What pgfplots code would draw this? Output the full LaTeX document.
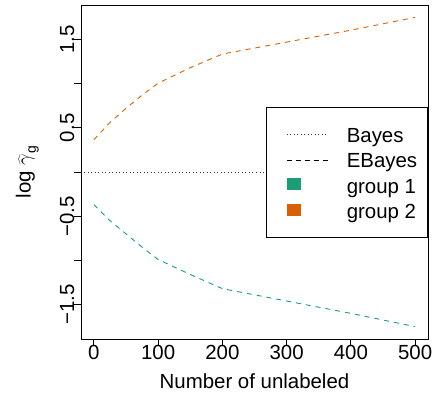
\documentclass[border=0pt]{standalone}
\usepackage{fontspec}
\setmainfont{Liberation Sans}
\usepackage{pgfplots}
\pgfplotsset{compat=1.18}
\definecolor{gone}{HTML}{1B9E77}
\definecolor{gtwo}{HTML}{D95F02}
\newcommand{\fs}{\fontsize{20.5}{24}\selectfont}
\pgfplotsset{
  myline/.style={legend image code/.code={\path (-10bp,0bp); \draw[##1] (0bp,-0.5bp) -- (41bp,-0.5bp);}},
  mysq/.style={legend image code/.code={\path (-10bp,0bp); \fill[##1] (0bp,-5bp) rectangle (14bp,7bp);}},
}
\begin{document}
\begin{tikzpicture}
\begin{axis}[
  at={(0,0)}, anchor=south west,
  scale only axis, width=347bp, height=334bp,
  xmin=-20, xmax=520, ymin=-1.89, ymax=1.89,
  axis line style={line width=0.8bp, black},
  tick align=outside, major tick length=6.5bp,
  tick style={line width=0.8bp, black},
  tick pos=left,
  xtick={0,100,200,300,400,500},
  xticklabels={0,100,200,300,400,500},
  ytick={-1.5,-1,-0.5,0,0.5,1,1.5},
  yticklabels={−1.5,,−0.5,,0.5,,1.5},
  ticklabel style={font=\fs},
  xticklabel style={anchor=north, inner sep=0pt},
  yticklabel style={rotate=90, anchor=south, inner sep=0pt},
  xlabel={Number of unlabeled},
  ylabel={log $\widehat{\gamma}$\raisebox{-0.25em}{\fontsize{14}{14}\selectfont g}},
  label style={font=\fs},
  xlabel style={at={(axis description cs:0.5,-0.1476)}, anchor=base},
  ylabel style={at={(axis description cs:-0.145,0.5)}, anchor=base},
  legend style={at={(axis description cs:0.532,0.694)}, anchor=north west,
    draw=black, line width=0.8bp, fill=white,
    inner xsep=10.3bp, inner ysep=16.4bp,
    column sep=18.7bp, row sep=5.5bp, font=\fs,
    nodes={inner sep=0pt, text height=18bp, text depth=2bp}},
  legend cell align=left,
]
\addplot[black!80, line width=0.7bp, dash pattern=on 1bp off 2.5bp, myline] coordinates {(-20,0) (520,0)};
\addlegendentry{Bayes}
\addlegendimage{black, line width=0.8bp, dash pattern=on 5bp off 4bp, myline}
\addlegendentry{EBayes}
\addlegendimage{fill=gone, draw=none, mysq}
\addlegendentry{group 1}
\addlegendimage{fill=gtwo, draw=none, mysq}
\addlegendentry{group 2}
\addplot[gtwo, line width=0.9bp, dash pattern=on 5bp off 5bp, forget plot] coordinates {
(0,0.365) (25,0.56) (50,0.72) (75,0.87) (100,1.005) (150,1.18) (200,1.335) (300,1.47) (400,1.605) (500,1.75)};
\addplot[gone, line width=0.9bp, dash pattern=on 5bp off 5bp, forget plot] coordinates {
(0,-0.37) (25,-0.55) (50,-0.70) (75,-0.85) (100,-0.99) (150,-1.16) (200,-1.32) (300,-1.46) (400,-1.60) (500,-1.75)};
\end{axis}
\pgfresetboundingbox
\path (-81bp,-57bp) rectangle (351bp,339bp);
\end{tikzpicture}
\end{document}
